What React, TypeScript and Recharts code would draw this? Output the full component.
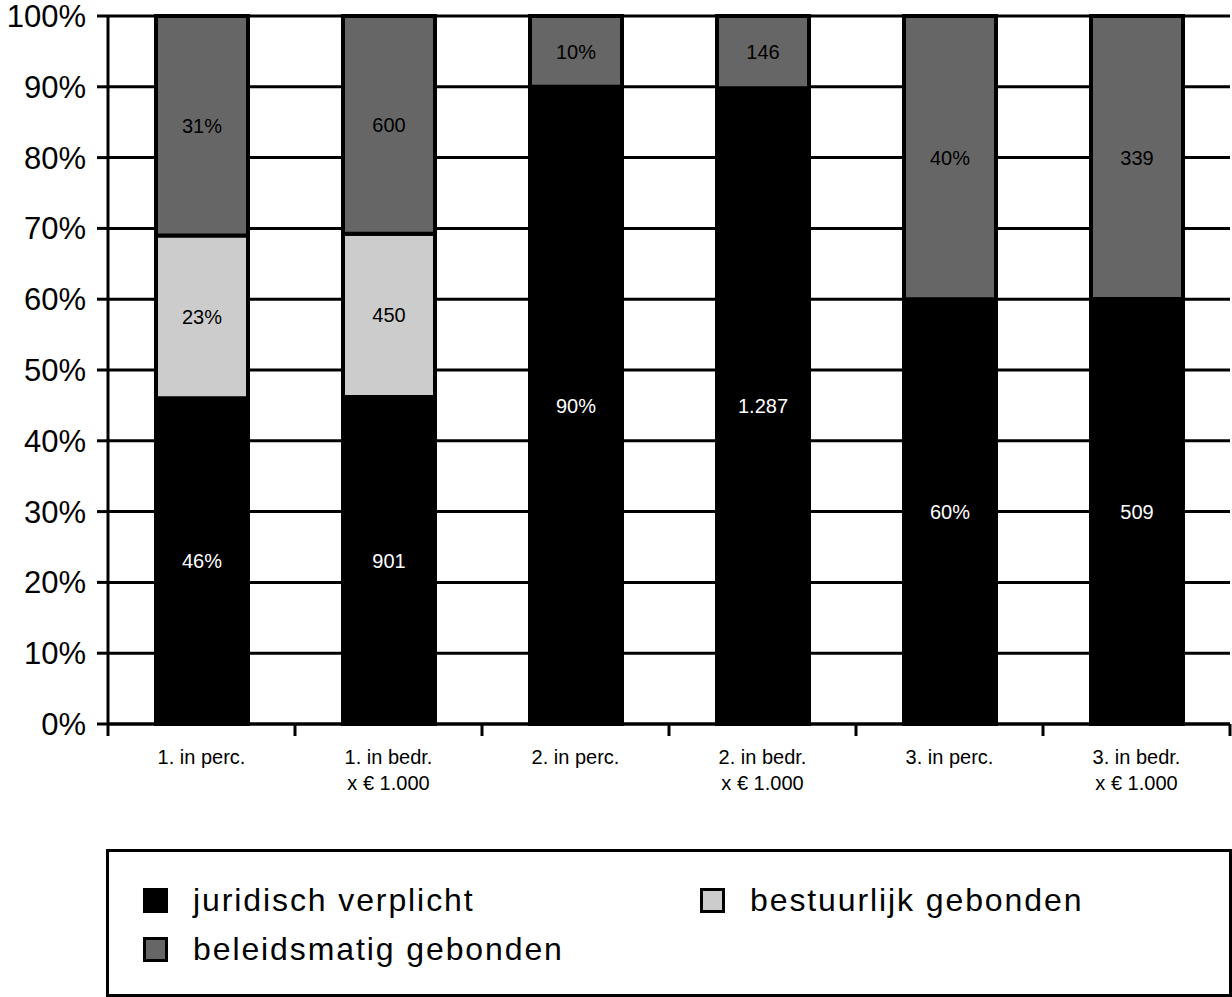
import React from "react";
import { BarChart, Bar, XAxis, YAxis, CartesianGrid, LabelList, Legend } from "recharts";

const categories = ["1. in perc.", "1. in bedr.|x € 1.000", "2. in perc.", "2. in bedr.|x € 1.000", "3. in perc.", "3. in bedr.|x € 1.000"];
const units = ["%", "", "%", "", "%", ""];
const juridisch = [46, 901, 90, 1287, 60, 509];
const bestuurlijk = [23, 450, 0, 0, 0, 0];
const beleidsmatig = [31, 600, 10, 146, 40, 339];
const yTicks = [0, 0.1, 0.2, 0.3, 0.4, 0.5, 0.6, 0.7, 0.8, 0.9, 1];

const SERIES = [
  { key: "juridisch", name: "juridisch verplicht", color: "#000000", text: "#ffffff" },
  { key: "bestuurlijk", name: "bestuurlijk gebonden", color: "#cccccc", text: "#000000" },
  { key: "beleidsmatig", name: "beleidsmatig gebonden", color: "#666666", text: "#000000" },
];

const W = 1232;
const H = 997;
const Y_W = 108;
const M_RIGHT = 2;
const BAND = (W - Y_W - M_RIGHT) / categories.length;
const FONT = '"Liberation Sans", Arial, Helvetica, sans-serif';

function fmt(v: number, unit: string) {
  if (!v) return "";
  return String(v).replace(/\B(?=(\d{3})+(?!\d))/g, ".") + unit;
}

const data = categories.map((name, i) => ({
  name,
  juridisch: juridisch[i],
  bestuurlijk: bestuurlijk[i],
  beleidsmatig: beleidsmatig[i],
  juridischLabel: fmt(juridisch[i], units[i]),
  bestuurlijkLabel: fmt(bestuurlijk[i], units[i]),
  beleidsmatigLabel: fmt(beleidsmatig[i], units[i]),
}));

function XTick(props: any) {
  const { x, y, payload, index } = props;
  const half = BAND / 2;
  const lines = String(payload.value).split("|");
  return (
    <g>
      <line x1={x - half} x2={x - half} y1={y} y2={y + 12} stroke="#000" strokeWidth={3} />
      {index === categories.length - 1 && (
        <line x1={x + half} x2={x + half} y1={y} y2={y + 12} stroke="#000" strokeWidth={3} />
      )}
      <text x={x} y={y + 40} textAnchor="middle" fontSize={20} fill="#000" fontFamily={FONT}>
        {lines.map((l, i) => (
          <tspan key={i} x={x} dy={i === 0 ? 0 : 26}>
            {l}
          </tspan>
        ))}
      </text>
    </g>
  );
}

const legendPos = [
  { left: 34, top: 48 },
  { left: 591, top: 48 },
  { left: 34, top: 97 },
];

function LegendBox() {
  return (
    <div
      style={{
        position: "relative",
        width: "100%",
        height: "100%",
        boxSizing: "border-box",
        border: "3px solid #000",
        background: "#fff",
        fontFamily: FONT,
      }}
    >
      {SERIES.map((s, i) => (
        <div
          key={s.key}
          style={{
            position: "absolute",
            left: legendPos[i].left,
            top: legendPos[i].top - 20,
            height: 40,
            display: "flex",
            alignItems: "center",
            whiteSpace: "nowrap",
          }}
        >
          <span
            style={{
              display: "inline-block",
              width: 25,
              height: 25,
              boxSizing: "border-box",
              border: "3px solid #000",
              background: s.color,
              marginRight: 25,
            }}
          />
          <span style={{ fontSize: 32, letterSpacing: 1.9, color: "#000" }}>{s.name}</span>
        </div>
      ))}
    </div>
  );
}

export default function App() {
  return (
    <div style={{ position: "absolute", left: 0, top: 0, width: W, height: H, background: "#fff" }}>
      <BarChart
        width={W}
        height={H}
        data={data}
        stackOffset="expand"
        margin={{ top: 16, right: M_RIGHT, left: 0, bottom: 193 }}
      >
        <CartesianGrid vertical={false} stroke="#000" strokeWidth={3} horizontalValues={yTicks} />
        <XAxis
          dataKey="name"
          height={80}
          axisLine={{ stroke: "#000", strokeWidth: 3 }}
          tickLine={false}
          tickSize={0}
          tickMargin={0}
          interval={0}
          tick={<XTick />}
        />
        <YAxis
          width={Y_W}
          domain={[0, 1]}
          ticks={yTicks}
          interval={0}
          tickFormatter={(v: number) => `${Math.round(v * 100)}%`}
          axisLine={{ stroke: "#000", strokeWidth: 3 }}
          tickLine={{ stroke: "#000", strokeWidth: 3 }}
          tickSize={11}
          tickMargin={11}
          tick={{ fontSize: 31, fill: "#000", fontFamily: FONT }}
        />
        {SERIES.map((s) => (
          <Bar
            key={s.key}
            dataKey={s.key}
            name={s.name}
            stackId="a"
            fill={s.color}
            stroke="#000"
            strokeWidth={4}
            barSize={92}
            isAnimationActive={false}
          >
            <LabelList
              dataKey={`${s.key}Label`}
              position="center"
              fill={s.text}
              fontSize={20}
              fontFamily={FONT}
            />
          </Bar>
        ))}
        <Legend
          layout="horizontal"
          verticalAlign="middle"
          align="center"
          wrapperStyle={{ position: "absolute", left: 106, top: 849, width: 1126, height: 148 }}
          content={<LegendBox />}
        />
      </BarChart>
    </div>
  );
}
